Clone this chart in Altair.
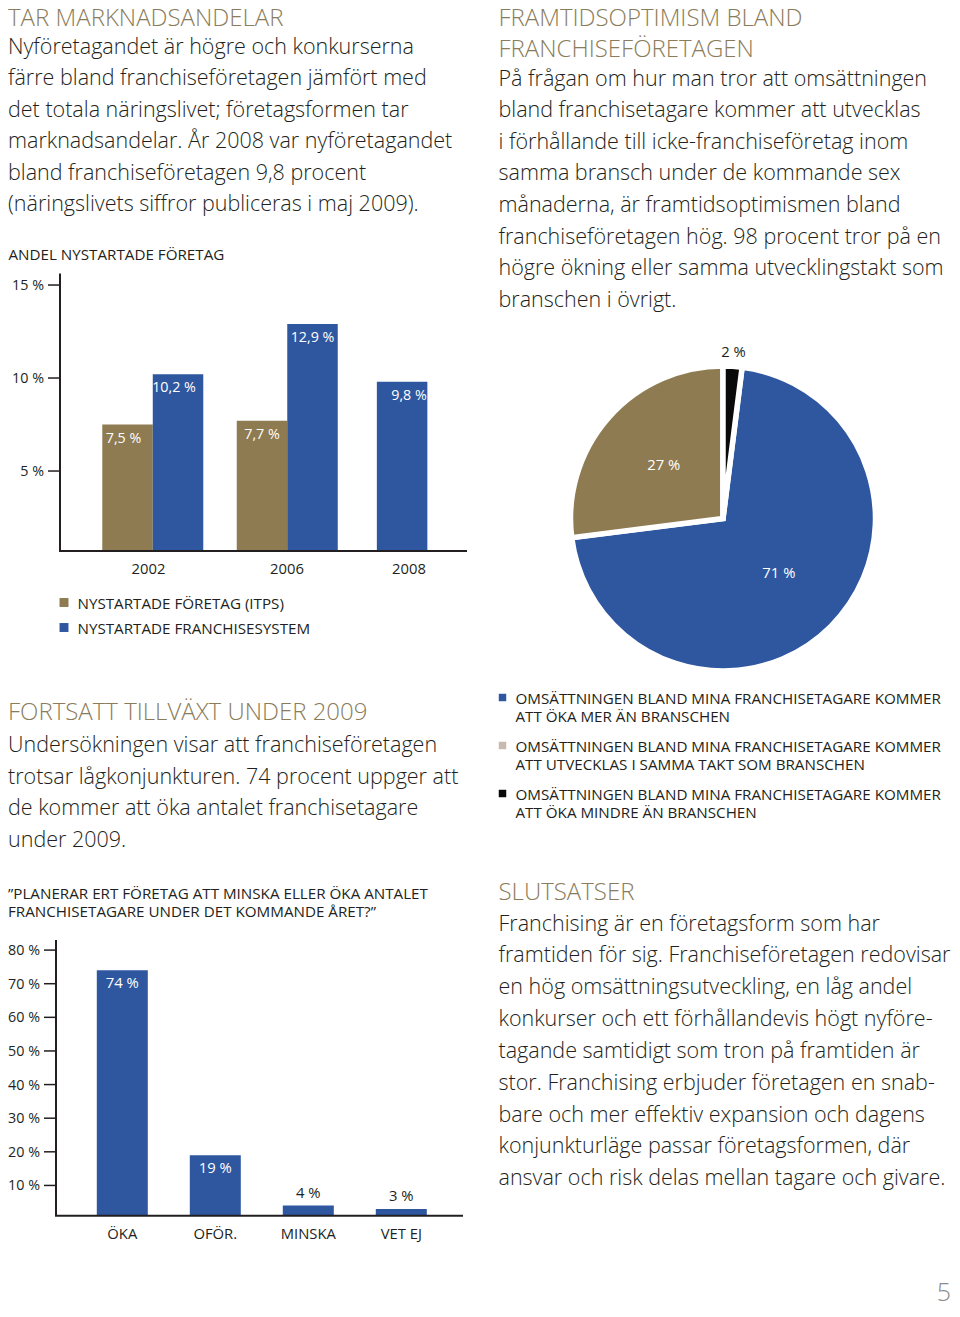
import math
import altair as alt
import pandas as pd

# ---------------- data ----------------
years = [2002, 2006, 2008]
itps_share = [7.5, 7.7, None]
franchise_share = [10.2, 12.9, 9.8]
series_names = ["NYSTARTADE FÖRETAG (ITPS)", "NYSTARTADE FRANCHISESYSTEM"]
share_ticks = [5, 10, 15]

plan_cats = ["ÖKA", "OFÖR.", "MINSKA", "VET EJ"]
plan_values = [74, 19, 4, 3]
plan_ticks = [10, 20, 30, 40, 50, 60, 70, 80]

pie_keys = ["mer", "samma", "mindre"]
pie_values = [71, 27, 2]
pie_draw_order = ["mindre", "mer", "samma"]
pie_legend_l1 = ["OMSÄTTNINGEN BLAND MINA FRANCHISETAGARE KOMMER"] * 3
pie_legend_l2 = ["ATT ÖKA MER ÄN BRANSCHEN",
                 "ATT UTVECKLAS I SAMMA TAKT SOM BRANSCHEN",
                 "ATT ÖKA MINDRE ÄN BRANSCHEN"]

head_1 = ["TAR MARKNADSANDELAR"]
body_1 = ["Nyföretagandet är högre och konkurserna",
          "färre bland franchiseföretagen jämfört med",
          "det totala näringslivet; företagsformen tar",
          "marknadsandelar. År 2008 var nyföretagandet",
          "bland franchiseföretagen 9,8 procent",
          "(näringslivets siffror publiceras i maj 2009)."]
head_2a = ["FRAMTIDSOPTIMISM BLAND"]
head_2b = ["FRANCHISEFÖRETAGEN"]
body_2 = ["På frågan om hur man tror att omsättningen",
          "bland franchisetagare kommer att utvecklas",
          "i förhållande till icke-franchiseföretag inom",
          "samma bransch under de kommande sex",
          "månaderna, är framtidsoptimismen bland",
          "franchiseföretagen hög. 98 procent tror på en",
          "högre ökning eller samma utvecklingstakt som",
          "branschen i övrigt."]
head_3 = ["FORTSATT TILLVÄXT UNDER 2009"]
body_3 = ["Undersökningen visar att franchiseföretagen",
          "trotsar lågkonjunkturen. 74 procent uppger att",
          "de kommer att öka antalet franchisetagare",
          "under 2009."]
head_4 = ["SLUTSATSER"]
body_4 = ["Franchising är en företagsform som har",
          "framtiden för sig. Franchiseföretagen redovisar",
          "en hög omsättningsutveckling, en låg andel",
          "konkurser och ett förhållandevis högt nyföre-",
          "tagande samtidigt som tron på framtiden är",
          "stor. Franchising erbjuder företagen en snab-",
          "bare och mer effektiv expansion och dagens",
          "konjunkturläge passar företagsformen, där",
          "ansvar och risk delas mellan tagare och givare."]
title_share = ["ANDEL NYSTARTADE FÖRETAG"]
title_plan = ["”PLANERAR ERT FÖRETAG ATT MINSKA ELLER ÖKA ANTALET",
              "FRANCHISETAGARE UNDER DET KOMMANDE ÅRET?”"]
page_no = ["5"]

# ---------------- style ----------------
FONT = "Open Sans"
LIGHT_W = 300
INK = "#231f20"
GOLD = "#8a7c5a"
BLUE = "#2e57a0"
BROWN = "#8e7b52"
BLACK = "#0a0a0a"
PALE = "#c9bab0"
MARGIN = 8


def px(v):
    """page coordinate -> chart coordinate (page has an 8px margin)"""
    return v - MARGIN


ONE = alt.Data(values=[{}])


def text_block(lines, x, y, size, color, lh, weight=LIGHT_W, align="left"):
    txt = lines if len(lines) > 1 else lines[0]
    return alt.Chart(ONE).mark_text(
        text=txt, align=align, baseline="alphabetic", font=FONT,
        fontSize=size, fontWeight=weight, color=color, lineHeight=lh,
    ).encode(x=alt.value(px(x)), y=alt.value(px(y)))


layers = []

# ---------------- text blocks ----------------
HEAD = 24
BODY = 21.5
SMALL = 15.2
TICK = 14.3
LBL = 14.3
layers += [
    text_block(head_1, 8, 26, HEAD, GOLD, 32),
    text_block(body_1, 8, 54, BODY, INK, 31.45),
    text_block(head_2a, 498.5, 26, HEAD, GOLD, 30),
    text_block(head_2b, 498.5, 56.5, HEAD, GOLD, 30),
    text_block(body_2, 498.5, 85.5, BODY, INK, 31.6),
    text_block(head_3, 8, 719.5, HEAD, GOLD, 32),
    text_block(body_3, 8, 752, BODY, INK, 31.5),
    text_block(head_4, 498.5, 899.5, HEAD, GOLD, 32),
    text_block(body_4, 498.5, 930.5, BODY, INK, 31.85),
    text_block(title_share, 8.5, 259.5, SMALL, INK, 18, weight=400),
    text_block(title_plan, 8, 898.5, SMALL, INK, 18.4, weight=400),
    text_block(page_no, 951, 1301, 25, "#8c8c8c", 25, align="right"),
]

# ---------------- chart 1: share of new companies ----------------
rows = []
for yr, a, b in zip(years, itps_share, franchise_share):
    if a is not None:
        rows.append({"year": yr, "series": series_names[0], "value": a})
    rows.append({"year": yr, "series": series_names[1], "value": b})
df1 = pd.DataFrame(rows)
df1["label"] = df1["value"].map(lambda v: f"{v:.1f} %".replace(".", ","))

Y1_BASE, Y1_TOP = 0.7, 15.62
X1 = alt.Scale(domain=[2002, 2006, 2008], range=[px(148.5), px(287), px(409)],
               zero=False, nice=False)
Y1 = alt.Scale(domain=[Y1_BASE, Y1_TOP], range=[px(551), px(273.5)],
               zero=False, nice=False, clamp=True)
COL1 = alt.Scale(domain=series_names, range=[BROWN, BLUE])


def bar_group(filter_expr, xoff):
    base = (alt.Chart(df1)
            .transform_joinaggregate(n="count()", groupby=["year"])
            .transform_filter(filter_expr))
    bars = base.mark_bar(size=50.5, xOffset=xoff).encode(
        x=alt.X("year:Q", scale=X1, axis=None),
        y=alt.Y("value:Q", scale=Y1, axis=None),
        y2=alt.datum(Y1_BASE),
        color=alt.Color("series:N", scale=COL1, legend=None),
    )
    labels = base.mark_text(xOffset=xoff, dy=18, baseline="alphabetic", align="center",
                            font=FONT, fontSize=LBL, color="white").encode(
        x=alt.X("year:Q", scale=X1, axis=None),
        y=alt.Y("value:Q", scale=Y1, axis=None),
        text="label:N",
    )
    return [bars, labels]


layers += bar_group(f"datum.series == '{series_names[0]}'", -25)
layers += bar_group(f"datum.series == '{series_names[1]}' && datum.n == 2", 25.5)
layers += bar_group("datum.n == 1", 0)

ticks1 = pd.DataFrame({"v": share_ticks})
ticks1["lbl"] = ticks1["v"].map(lambda v: f"{v} %")
layers += [
    alt.Chart(ONE).mark_rule(color=INK, strokeWidth=2).encode(
        x=alt.value(px(60)),
        y=alt.YDatum(Y1_TOP, scale=Y1, axis=None), y2=alt.datum(Y1_BASE)),
    alt.Chart(ONE).mark_rule(color=INK, strokeWidth=2).encode(
        y=alt.YDatum(Y1_BASE, scale=Y1, axis=None),
        x=alt.value(px(59)), x2=alt.value(px(467))),
    alt.Chart(ticks1).mark_rule(color=INK, strokeWidth=1.5).encode(
        y=alt.Y("v:Q", scale=Y1, axis=None), x=alt.value(px(48)), x2=alt.value(px(60))),
    alt.Chart(ticks1).mark_text(align="right", baseline="alphabetic", dy=5, font=FONT,
                                fontSize=TICK, color=INK).encode(
        y=alt.Y("v:Q", scale=Y1, axis=None), x=alt.value(px(44)), text="lbl:N"),
    alt.Chart(pd.DataFrame({"year": years})).mark_text(
        align="center", baseline="alphabetic", font=FONT, fontSize=14.8, color=INK).encode(
        x=alt.X("year:Q", scale=X1, axis=None), y=alt.value(px(573.5)), text="year:N"),
]

# legend for chart 1
LEG1 = alt.Scale(type="point", domain=series_names, range=[px(602.5), px(627.5)], padding=0)
leg1 = pd.DataFrame({"series": series_names})
layers += [
    alt.Chart(leg1).mark_square(size=80, opacity=1).encode(
        x=alt.value(px(64)), y=alt.Y("series:N", scale=LEG1, axis=None),
        color=alt.Color("series:N", scale=COL1, legend=None)),
    alt.Chart(leg1).mark_text(align="left", baseline="alphabetic", dy=6.8, font=FONT,
                              fontSize=SMALL, color=INK).encode(
        x=alt.value(px(77.5)), y=alt.Y("series:N", scale=LEG1, axis=None), text="series:N"),
]

# ---------------- pie: expected turnover ----------------
df3 = pd.DataFrame({"key": pie_keys, "value": pie_values})
df3["label"] = df3["value"].map(lambda v: f"{v} %")
TH = alt.Scale(domain=[0, 100], range=[0, 2 * math.pi])
COL3 = alt.Scale(domain=pie_keys, range=[BLUE, BROWN, BLACK])
PCX, PCY = px(723), px(518.5)

pie_base = (alt.Chart(df3)
            .transform_calculate(ord=f"indexof({pie_draw_order!r}, datum.key)")
            .transform_window(end="sum(value)", sort=[alt.SortField("ord")], frame=[None, 0])
            .transform_calculate(start="datum.end - datum.value",
                                 mid="datum.end - datum.value / 2"))
layers += [
    pie_base.mark_arc(radius=152.5, stroke="white", strokeWidth=5.5).encode(
        theta=alt.Theta("start:Q", scale=TH, stack=False), theta2="end:Q",
        color=alt.Color("key:N", scale=COL3, legend=None),
        x=alt.value(PCX), y=alt.value(PCY)),
    pie_base.transform_filter("datum.value >= 10").mark_text(
        radius=79, align="center", baseline="middle", font=FONT, fontSize=14.8,
        color="white").encode(
        theta=alt.Theta("mid:Q", scale=TH, stack=False), text="label:N",
        x=alt.value(PCX), y=alt.value(PCY)),
    pie_base.transform_filter("datum.value < 10").mark_text(
        radius=166, align="center", baseline="middle", font=FONT, fontSize=14.8,
        color=INK).encode(
        theta=alt.Theta("mid:Q", scale=TH, stack=False), text="label:N",
        x=alt.value(PCX), y=alt.value(PCY)),
]

# pie legend
leg3 = pd.DataFrame({"key": pie_keys, "l1": pie_legend_l1, "l2": pie_legend_l2})
LEG3_Y = alt.Scale(type="point", domain=pie_keys, range=[px(697.5), px(793.5)], padding=0)
LEG3_C = alt.Scale(domain=pie_keys, range=[BLUE, PALE, BLACK])
layers += [
    alt.Chart(leg3).mark_square(size=56, opacity=1).encode(
        x=alt.value(px(502.5)), y=alt.Y("key:N", scale=LEG3_Y, axis=None),
        color=alt.Color("key:N", scale=LEG3_C, legend=None)),
    alt.Chart(leg3).mark_text(align="left", baseline="alphabetic", dy=6, font=FONT,
                              fontSize=SMALL, color=INK).encode(
        x=alt.value(px(515.5)), y=alt.Y("key:N", scale=LEG3_Y, axis=None), text="l1:N"),
    alt.Chart(leg3).mark_text(align="left", baseline="alphabetic", dy=24, font=FONT,
                              fontSize=SMALL, color=INK).encode(
        x=alt.value(px(515.5)), y=alt.Y("key:N", scale=LEG3_Y, axis=None), text="l2:N"),
]

# ---------------- chart 2: planned number of franchisees ----------------
df2 = pd.DataFrame({"cat": plan_cats, "value": plan_values})
df2["label"] = df2["value"].map(lambda v: f"{v} %")
Y2_BASE, Y2_TOP = 1.0, 83.0
X2 = alt.Scale(type="band", domain=plan_cats, range=[px(75.8), px(447.8)],
               paddingInner=0.4516, paddingOuter=0.2258)
Y2 = alt.Scale(domain=[Y2_BASE, Y2_TOP], range=[px(1215.7), px(940)],
               zero=False, nice=False, clamp=True)
ticks2 = pd.DataFrame({"v": plan_ticks})
ticks2["lbl"] = ticks2["v"].map(lambda v: f"{v} %")

layers += [
    alt.Chart(df2).mark_bar(color=BLUE).encode(
        x=alt.X("cat:N", scale=X2, axis=None, sort=plan_cats),
        y=alt.Y("value:Q", scale=Y2, axis=None), y2=alt.datum(Y2_BASE)),
    alt.Chart(df2).transform_filter("datum.value >= 10").mark_text(
        dy=17.5, baseline="alphabetic", align="center", font=FONT, fontSize=14.8,
        color="white").encode(
        x=alt.X("cat:N", scale=X2, axis=None, sort=plan_cats),
        y=alt.Y("value:Q", scale=Y2, axis=None), text="label:N"),
    alt.Chart(df2).transform_filter("datum.value < 10").mark_text(
        dy=-8, baseline="alphabetic", align="center", font=FONT, fontSize=14.8,
        color=INK).encode(
        x=alt.X("cat:N", scale=X2, axis=None, sort=plan_cats),
        y=alt.Y("value:Q", scale=Y2, axis=None), text="label:N"),
    alt.Chart(ONE).mark_rule(color=INK, strokeWidth=2).encode(
        x=alt.value(px(56)),
        y=alt.YDatum(Y2_TOP, scale=Y2, axis=None), y2=alt.datum(Y2_BASE)),
    alt.Chart(ONE).mark_rule(color=INK, strokeWidth=2).encode(
        y=alt.YDatum(Y2_BASE, scale=Y2, axis=None),
        x=alt.value(px(55)), x2=alt.value(px(463))),
    alt.Chart(ticks2).mark_rule(color=INK, strokeWidth=1.5).encode(
        y=alt.Y("v:Q", scale=Y2, axis=None), x=alt.value(px(44)), x2=alt.value(px(56))),
    alt.Chart(ticks2).mark_text(align="right", baseline="alphabetic", dy=5, font=FONT,
                                fontSize=TICK, color=INK).encode(
        y=alt.Y("v:Q", scale=Y2, axis=None), x=alt.value(px(40)), text="lbl:N"),
    alt.Chart(df2).mark_text(align="center", baseline="alphabetic", font=FONT,
                             fontSize=14.8, color=INK).encode(
        x=alt.X("cat:N", scale=X2, axis=None, sort=plan_cats),
        y=alt.value(px(1239)), text="cat:N"),
]

chart = (
    alt.layer(*layers)
    .resolve_scale(x="independent", y="independent", color="independent",
                   theta="independent")
    .properties(width=944, height=1301, padding=0,
                autosize=alt.AutoSizeParams(type="none"), background="white")
    .configure_view(stroke=None)
)

chart.save("out.html", embed_options={"renderer": "svg", "actions": False})
